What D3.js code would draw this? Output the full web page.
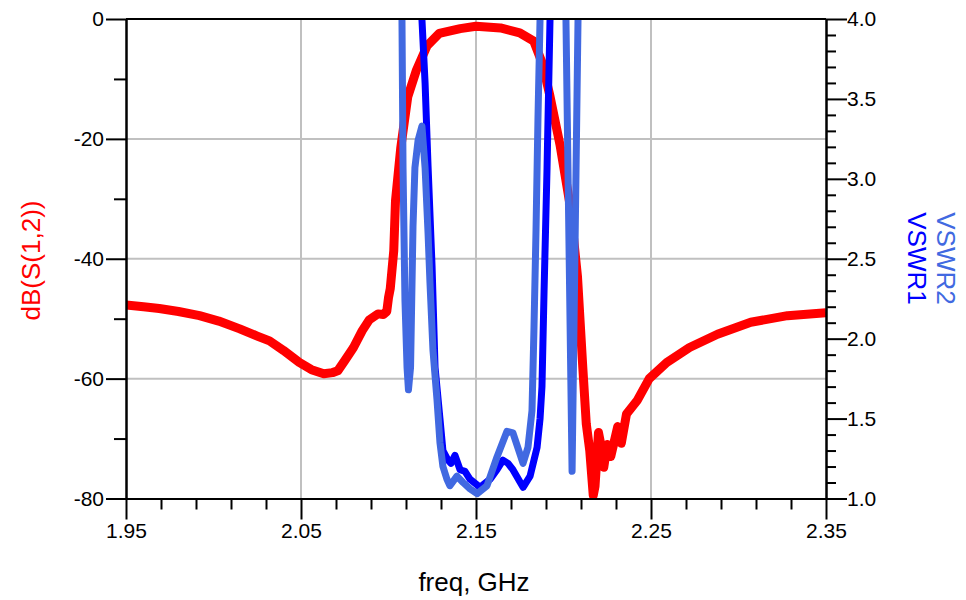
<!DOCTYPE html>
<html>
<head>
<meta charset="utf-8">
<script src="https://cdn.jsdelivr.net/npm/d3@7"></script>
<style>
  html, body { margin: 0; padding: 0; background: #fff; }
  svg { display: block; font-family: "Liberation Sans", Arial, sans-serif; }
</style>
</head>
<body>
<svg id="chart" width="966" height="600"></svg>
<script>
// ---- data ----
const freqS12 = [1.950,1.960,1.969,1.980,1.992,2.003,2.015,2.025,2.032,2.040,2.049,2.056,2.063,2.068,2.071,2.075,2.080,2.085,2.089,2.094,2.097,2.099,2.100,2.101,2.103,2.104,2.107,2.111,2.116,2.122,2.129,2.141,2.150,2.164,2.175,2.183,2.188,2.192,2.198,2.204,2.208,2.211,2.213,2.215,2.217,2.218,2.220,2.222,2.223,2.225,2.227,2.229,2.231,2.233,2.236,2.242,2.249,2.259,2.272,2.288,2.307,2.328,2.350];
const dbS12 = [-47.7,-48.0,-48.3,-48.8,-49.5,-50.4,-51.7,-52.9,-53.7,-55.3,-57.3,-58.5,-59.2,-59.0,-58.7,-57.0,-54.8,-52.0,-50.2,-49.2,-49.3,-48.8,-46.5,-45.0,-38.7,-30.3,-21.5,-13.0,-8.5,-4.5,-2.4,-1.6,-1.2,-1.5,-2.3,-3.7,-7.5,-12.5,-21.0,-31.5,-43.0,-58.0,-67.5,-72.0,-79.5,-78.0,-69.0,-72.0,-74.8,-71.0,-73.0,-70.5,-68.0,-70.8,-65.9,-63.7,-60.0,-57.3,-54.8,-52.6,-50.6,-49.5,-49.0];

const freqV1 = [2.1174,2.1191,2.1209,2.1226,2.1249,2.1266,2.1294,2.1311,2.1340,2.1357,2.1380,2.1409,2.1437,2.1466,2.1523,2.1580,2.1620,2.1654,2.1683,2.1711,2.1769,2.1809,2.1849,2.1866,2.1877,2.1889,2.1906,2.1923,2.1934];
const vswr1 = [4.4,4.0,3.6,3.08,2.45,1.82,1.5,1.3,1.24,1.22,1.27,1.18,1.17,1.12,1.07,1.12,1.18,1.24,1.22,1.18,1.07,1.14,1.32,1.5,1.7,2.3,3.07,4.0,4.4];

const freqV2 = [2.1066,2.1077,2.1083,2.1094,2.1106,2.1114,2.1126,2.1140,2.1151,2.1169,2.1191,2.1209,2.1226,2.1237,2.1254,2.1277,2.1294,2.1311,2.1334,2.1351,2.1391,2.1426,2.1466,2.1506,2.1563,2.1620,2.1677,2.1711,2.1769,2.1797,2.1820,2.1831,2.1843,2.1854,2.1866,2.1883,2.1980,2.2014,2.2049,2.2083,2.2094];
const vswr2 = [4.4,4.0,3.07,2.24,1.82,1.68,1.82,2.7,3.07,3.24,3.33,3.07,2.66,2.35,1.93,1.62,1.35,1.2,1.12,1.08,1.14,1.1,1.06,1.03,1.08,1.26,1.42,1.41,1.22,1.32,1.55,2.05,2.68,3.37,4.0,4.6,4.6,4.0,1.17,4.0,4.4];

const xTickLabels = ["1.95", "2.05", "2.15", "2.25", "2.35"];
const xMinorTicks = [1.97,1.99,2.01,2.03,2.07,2.09,2.11,2.13,2.17,2.19,2.21,2.23,2.27,2.29,2.31,2.33];
const leftTickLabels = ["0", "-20", "-40", "-60", "-80"];
const leftMinorTicks = [-10, -30, -50, -70];
const rightTickLabels = ["1.0", "1.5", "2.0", "2.5", "3.0", "3.5", "4.0"];
const rightMinorTicks = [1.1,1.2,1.3,1.4,1.6,1.7,1.8,1.9,2.1,2.2,2.3,2.4,2.6,2.7,2.8,2.9,3.1,3.2,3.3,3.4,3.6,3.7,3.8,3.9];
const gridX = [2.05, 2.15, 2.25];
const gridY = [-20, -40, -60];

// ---- layout ----
const L = 126, R = 826, T = 19, B = 498.5;
const svg = d3.select("#chart");

const x = d3.scaleLinear().domain([1.95, 2.35]).range([L, R]);
const yL = d3.scaleLinear().domain([-80, 0]).range([B, T]);
const yR = d3.scaleLinear().domain([1.0, 4.0]).range([B, T]);

svg.append("defs").append("clipPath").attr("id", "plotclip")
  .append("rect").attr("x", L).attr("y", T).attr("width", R - L).attr("height", B - T);

// grid
const grid = svg.append("g").attr("stroke", "#c0c0c0").attr("stroke-width", 2);
grid.selectAll("line.gx").data(gridX).join("line")
  .attr("x1", d => x(d)).attr("x2", d => x(d)).attr("y1", T).attr("y2", B);
grid.selectAll("line.gy").data(gridY).join("line")
  .attr("y1", d => yL(d)).attr("y2", d => yL(d)).attr("x1", L).attr("x2", R);

// curves
const plot = svg.append("g").attr("clip-path", "url(#plotclip)");
const lineS = d3.line().x((d, i) => x(freqS12[i])).y(d => yL(d));
const lineV1 = d3.line().x((d, i) => x(freqV1[i])).y(d => yR(d));
const lineV2 = d3.line().x((d, i) => x(freqV2[i])).y(d => yR(d));

plot.append("path").attr("d", lineS(dbS12)).attr("fill", "none")
  .attr("stroke", "#ff0000").attr("stroke-width", 9).attr("stroke-linejoin", "round");
plot.append("path").attr("d", lineV1(vswr1)).attr("fill", "none")
  .attr("stroke", "#0000ff").attr("stroke-width", 7).attr("stroke-linejoin", "round");
plot.append("path").attr("d", lineV2(vswr2)).attr("fill", "none")
  .attr("stroke", "#4169e1").attr("stroke-width", 7).attr("stroke-linejoin", "round");

// axes
function styleAxis(g) {
  g.selectAll("path.domain").attr("stroke", "#000").attr("stroke-width", 2);
  g.selectAll(".tick line").attr("stroke", "#000").attr("stroke-width", 2);
  g.selectAll(".tick text").attr("fill", "#000").style("font-size", "21px")
    .style("font-family", "'Liberation Sans', Arial, sans-serif");
}
const label = d => String(d);

svg.append("g").attr("transform", `translate(${L},0)`)
  .call(d3.axisLeft(yL).tickValues(leftMinorTicks).tickSize(12).tickSizeOuter(0).tickFormat(""))
  .call(styleAxis);
svg.append("g").attr("transform", `translate(${L},0)`)
  .call(d3.axisLeft(yL).tickValues(leftTickLabels.map(Number)).tickSize(20).tickSizeOuter(0).tickPadding(2)
    .tickFormat((d, i) => leftTickLabels[i]))
  .call(styleAxis);

svg.append("g").attr("transform", `translate(${R},0)`)
  .call(d3.axisRight(yR).tickValues(rightMinorTicks).tickSize(10).tickSizeOuter(0).tickFormat(""))
  .call(styleAxis);
svg.append("g").attr("transform", `translate(${R},0)`)
  .call(d3.axisRight(yR).tickValues(rightTickLabels.map(Number)).tickSize(21).tickSizeOuter(0).tickPadding(0)
    .tickFormat((d, i) => rightTickLabels[i]))
  .call(styleAxis);

svg.append("g").attr("transform", `translate(0,${B})`)
  .call(d3.axisBottom(x).tickValues(xMinorTicks).tickSize(11).tickSizeOuter(0).tickFormat(""))
  .call(styleAxis);
svg.append("g").attr("transform", `translate(0,${B})`)
  .call(d3.axisBottom(x).tickValues(xTickLabels.map(Number)).tickSize(21).tickSizeOuter(0).tickPadding(4)
    .tickFormat((d, i) => xTickLabels[i]))
  .call(styleAxis);

// top frame
svg.append("line").attr("x1", L).attr("x2", R).attr("y1", T).attr("y2", T)
  .attr("stroke", "#000").attr("stroke-width", 2);

// titles
svg.append("text").attr("transform", "translate(40,260.5) rotate(-90)")
  .attr("text-anchor", "middle").attr("fill", "#ff0000").style("font-size", "26px")
  .text("dB(S(1,2))");
svg.append("text").attr("transform", "translate(908,258.5) rotate(90)")
  .attr("text-anchor", "middle").attr("fill", "#0000ff").style("font-size", "26px")
  .text("VSWR1");
svg.append("text").attr("transform", "translate(937,258.5) rotate(90)")
  .attr("text-anchor", "middle").attr("fill", "#4169e1").style("font-size", "26px")
  .text("VSWR2");
svg.append("text").attr("x", 474).attr("y", 591)
  .attr("text-anchor", "middle").attr("fill", "#000").style("font-size", "26px")
  .text("freq, GHz");
</script>
</body>
</html>
